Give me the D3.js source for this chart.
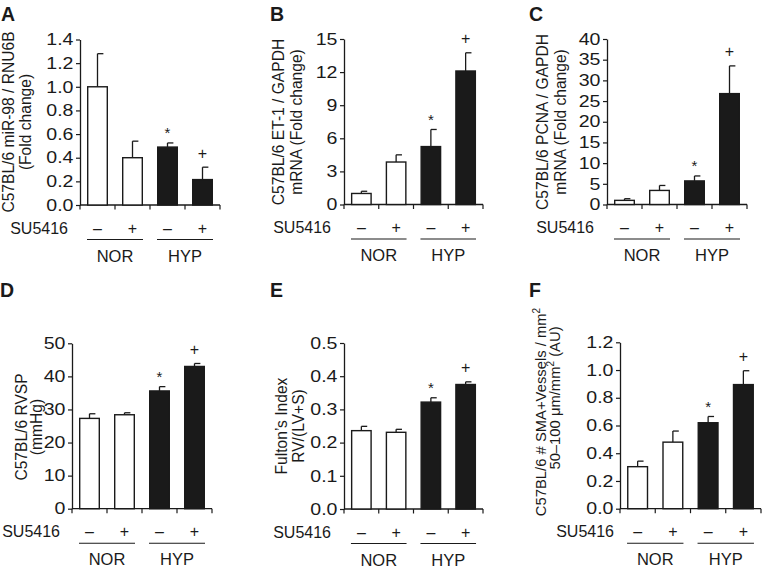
<!DOCTYPE html>
<html>
<head>
<meta charset="utf-8">
<script src="https://cdn.jsdelivr.net/npm/d3@7"></script>
<style>
  html, body { margin: 0; padding: 0; background: #fff; }
  svg { display: block; }
  text { font-family: "Liberation Sans", Arial, Helvetica, sans-serif; fill: #1a1a1a; }
</style>
</head>
<body>
<svg id="chart" width="762" height="569"></svg>
<script>
// ---------- data ----------
const conditions = ["NOR-veh", "NOR-SU", "HYP-veh", "HYP-SU"];
const suSigns = ["\u2013", "+", "\u2013", "+"];
const groupNames = ["NOR", "HYP"];
const treatmentLabel = "SU5416";
const fills = ["white", "white", "black", "black"];
const markers = ["", "", "*", "+"];

const panelLetters = ["A", "B", "C", "D", "E", "F"];

const meanA = [1.00, 0.40, 0.49, 0.215];
const semA  = [0.28, 0.14, 0.035, 0.105];
const ticksA = [0, 0.2, 0.4, 0.6, 0.8, 1.0, 1.2, 1.4];

const meanB = [1.0, 3.85, 5.25, 12.1];
const semB  = [0.2, 0.65, 1.55, 1.65];
const ticksB = [0, 3, 6, 9, 12, 15];

const meanC = [1.0, 3.4, 5.7, 26.8];
const semC  = [0.4, 1.2, 1.2, 6.7];
const ticksC = [0, 5, 10, 15, 20, 25, 30, 35, 40];

const meanD = [27.3, 28.4, 35.6, 43.0];
const semD  = [1.4, 0.6, 1.3, 0.9];
const ticksD = [0, 10, 20, 30, 40, 50];

const meanE = [0.236, 0.231, 0.322, 0.375];
const semE  = [0.013, 0.009, 0.013, 0.008];
const ticksE = [0, 0.1, 0.2, 0.3, 0.4, 0.5];

const meanF = [0.303, 0.48, 0.62, 0.895];
const semF  = [0.04, 0.08, 0.045, 0.10];
const ticksF = [0, 0.2, 0.4, 0.6, 0.8, 1.0, 1.2];

const titleA = ["C57BL/6 miR-98 / RNU6B", "(Fold change)"];
const titleB = ["C57BL/6 ET-1 / GAPDH", "mRNA (Fold change)"];
const titleC = ["C57BL/6 PCNA / GAPDH", "mRNA (Fold change)"];
const titleD = ["C57BL/6 RVSP", "(mmHg)"];
const titleE = ["Fulton\u2019s Index", "RV/(LV+S)"];
const titleF = [["C57BL/6 # SMA+Vessels / mm", "2", ""], ["50\u2013100 \u03bcm/mm", "2", " (AU)"]];

// ---------- layout ----------
const panels = [
  { letter: panelLetters[0], mean: meanA, sem: semA, ticks: ticksA, fmt: ".1f", title: titleA,
    box: [80, 220, 39.5, 205], lx: 1, ly: 21, suGap: 12, tx: [13.5, 30.5], tcy: [122, 122] },
  { letter: panelLetters[1], mean: meanB, sem: semB, ticks: ticksB, fmt: "d", title: titleB,
    box: [344, 483, 39, 204.5], lx: 270, ly: 21, suGap: 13, tx: [284, 302], tcy: [122, 122] },
  { letter: panelLetters[2], mean: meanC, sem: semC, ticks: ticksC, fmt: "d", title: titleC,
    box: [607, 747, 39, 204.5], lx: 529, ly: 21, suGap: 13, tx: [547.5, 565.5], tcy: [122, 122] },
  { letter: panelLetters[3], mean: meanD, sem: semD, ticks: ticksD, fmt: "d", title: titleD,
    box: [72, 212, 343.3, 508.7], lx: 0, ly: 297, suGap: 12, tx: [27, 41.5], tcy: [427, 427] },
  { letter: panelLetters[4], mean: meanE, sem: semE, ticks: ticksE, fmt: ".1f", title: titleE,
    box: [344, 483, 343, 509], lx: 270, ly: 297, suGap: 13, tx: [287, 303.5], tcy: [426, 426] },
  { letter: panelLetters[5], mean: meanF, sem: semF, ticks: ticksF, fmt: ".1f", title: titleF, sup: true,
    box: [620, 761, 342.3, 508.7], lx: 529, ly: 297, suGap: 6, tx: [546, 559.5], tcy: [412, 398] }
];

const svg = d3.select("#chart");
const ink = "#1a1a1a";

panels.forEach(p => {
  const [L, R, T, B] = p.box;
  const g = svg.append("g");

  const x = d3.scaleBand().domain(conditions).range([L, R]).paddingInner(0.4).paddingOuter(0.2);
  const y = d3.scaleLinear().domain([0, d3.max(p.ticks)]).range([B, T]);

  // panel letter
  svg.append("text").attr("x", p.lx).attr("y", p.ly)
    .attr("font-size", 19.5).attr("font-weight", "bold").text(p.letter);

  // y axis
  const yAxis = d3.axisLeft(y).tickValues(p.ticks).tickFormat(d3.format(p.fmt))
    .tickSize(4).tickSizeOuter(0).tickPadding(2.5);
  const ya = g.append("g").attr("transform", `translate(${L},0)`).call(yAxis);
  ya.select(".domain").attr("stroke", ink).attr("stroke-width", 1.3);
  ya.selectAll(".tick line").attr("stroke", ink).attr("stroke-width", 1.2);
  ya.selectAll(".tick text").each(function () {
    const t = d3.select(this);
    const x0 = +t.attr("x");
    t.attr("x", 0).attr("transform", `translate(${x0},0) scale(1.2,1)`);
  }).attr("font-size", 16.3).attr("fill", ink)
    .attr("font-family", "'Liberation Sans', Arial, sans-serif");

  // x axis line with ticks at band boundaries
  g.append("line").attr("x1", L).attr("x2", R).attr("y1", B).attr("y2", B)
    .attr("stroke", ink).attr("stroke-width", 1.3);
  const step = x.step();
  const bounds = d3.range(conditions.length + 1).map(i => L + i * step);
  g.selectAll(".xt").data(bounds).join("line")
    .attr("x1", d => d).attr("x2", d => d).attr("y1", B).attr("y2", B + 4.5)
    .attr("stroke", ink).attr("stroke-width", 1.2);

  const rows = conditions.map((c, i) => ({ c, m: p.mean[i], s: p.sem[i], fill: fills[i], mk: markers[i], sign: suSigns[i] }));

  // error bars (upper only)
  const capW = x.bandwidth() * 0.28;
  rows.forEach(r => {
    const cx = x(r.c) + x.bandwidth() / 2;
    g.append("line").attr("x1", cx).attr("x2", cx).attr("y1", y(r.m)).attr("y2", y(r.m + r.s))
      .attr("stroke", ink).attr("stroke-width", 1.3);
    g.append("line").attr("x1", cx).attr("x2", cx + capW).attr("y1", y(r.m + r.s)).attr("y2", y(r.m + r.s))
      .attr("stroke", ink).attr("stroke-width", 1.3);
  });

  // bars
  g.selectAll(".bar").data(rows).join("rect")
    .attr("x", d => x(d.c) + 0.7)
    .attr("y", d => y(d.m))
    .attr("width", x.bandwidth() - 1.4)
    .attr("height", d => B - y(d.m))
    .attr("fill", d => d.fill === "black" ? ink : "#fff")
    .attr("stroke", ink).attr("stroke-width", 1.4);

  // significance markers
  rows.filter(r => r.mk).forEach(r => {
    const cx = x(r.c) + x.bandwidth() / 2;
    if (r.mk === "*") {
      g.append("text").attr("x", cx).attr("y", y(r.m + r.s) - 4.5)
        .attr("text-anchor", "middle").attr("font-size", 15).text("*");
    } else {
      g.append("text").attr("x", cx).attr("y", y(r.m + r.s) - 8.5)
        .attr("text-anchor", "middle").attr("font-size", 16).text("+");
    }
  });

  // SU5416 row
  g.append("text").attr("x", L - p.suGap).attr("y", B + 23).attr("dy", "0.35em")
    .attr("text-anchor", "end").attr("font-size", 16).text(treatmentLabel);
  rows.forEach(r => {
    g.append("text").attr("x", x(r.c) + x.bandwidth() / 2).attr("y", B + 23).attr("dy", "0.35em")
      .attr("text-anchor", "middle").attr("font-size", 16).text(r.sign);
  });

  // group lines + labels
  groupNames.forEach((gn, gi) => {
    const x1 = x(conditions[gi * 2]);
    const x2 = x(conditions[gi * 2 + 1]) + x.bandwidth();
    g.append("line").attr("x1", x1).attr("x2", x2).attr("y1", B + 34.5).attr("y2", B + 34.5)
      .attr("stroke", ink).attr("stroke-width", 1.1);
    g.append("text").attr("x", (x1 + x2) / 2).attr("y", B + 51).attr("dy", "0.35em")
      .attr("text-anchor", "middle").attr("font-size", 16.5).text(gn);
  });

  // y title
  p.title.forEach((line, li) => {
    const t = g.append("text")
      .attr("transform", `translate(${p.tx[li]},${p.tcy[li]}) rotate(-90)`)
      .attr("text-anchor", "middle").attr("font-size", p.sup ? 14.8 : 15.6);
    if (p.sup) {
      t.append("tspan").text(line[0]);
      t.append("tspan").attr("dy", -6).attr("font-size", 10).text(line[1]);
      if (line[2]) t.append("tspan").attr("dy", 6).text(line[2]);
    } else {
      t.text(line);
    }
  });
});
</script>
</body>
</html>
